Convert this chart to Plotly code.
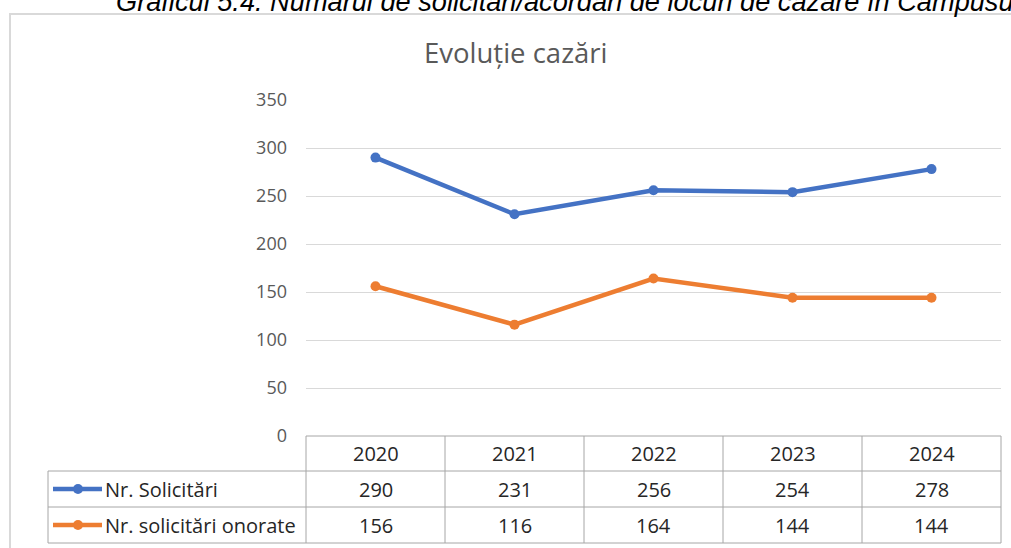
import plotly.graph_objects as go

years = ["2020", "2021", "2022", "2023", "2024"]
solicitari = [290, 231, 256, 254, 278]
onorate = [156, 116, 164, 144, 144]
series_names = ["Nr. Solicitări", "Nr. solicitări onorate"]
colors = ["#4472C4", "#ED7D31"]
title_text = "Evoluție cazări"
caption_text = "Graficul 5.4. Numărul de solicitări/acordări de locuri de cazare în Campusul Universitar"

W, H = 1011, 548
L, R, T, B = 306, 1001, 100, 436  # plot area in pixels

def px(x):
    return (x - L) / (R - L)

def py(y):
    return (B - y) / (B - T)

FONT = "Open Sans, Calibri, sans-serif"
fig = go.Figure()
for name, vals, c in zip(series_names, [solicitari, onorate], colors):
    fig.add_trace(go.Scatter(x=years, y=vals, mode="lines+markers", name=name,
                             line=dict(color=c, width=4.5),
                             marker=dict(color=c, size=10)))

shapes = []
annotations = []
shapes.append(dict(type="rect", xref="paper", yref="paper", x0=px(10), x1=px(1030),
                   y0=py(570), y1=py(14), line=dict(color="#d9d9d9", width=2), layer="below"))
gc = "#a6a6a6"
row_y = [436, 471, 507, 543]
col_x = [L + i * (R - L) / 5 for i in range(6)]
shapes.append(dict(type="line", xref="paper", yref="paper", x0=px(L), x1=px(R), y0=py(436), y1=py(436), line=dict(color=gc, width=1)))
for yy in row_y[1:]:
    shapes.append(dict(type="line", xref="paper", yref="paper", x0=px(48), x1=px(R), y0=py(yy), y1=py(yy), line=dict(color=gc, width=1)))
shapes.append(dict(type="line", xref="paper", yref="paper", x0=px(48), x1=px(48), y0=py(471), y1=py(543), line=dict(color=gc, width=1)))
for xx in col_x:
    shapes.append(dict(type="line", xref="paper", yref="paper", x0=px(xx), x1=px(xx), y0=py(436), y1=py(543), line=dict(color=gc, width=1)))

tf = dict(family=FONT, size=20, color="#262626")
for i, yr in enumerate(years):
    cx = (col_x[i] + col_x[i + 1]) / 2
    annotations.append(dict(x=px(cx), y=py(453), xref="paper", yref="paper", text=yr, showarrow=False, font=tf, xanchor="center", yanchor="middle"))
for r, (name, vals, c) in enumerate(zip(series_names, [solicitari, onorate], colors)):
    yc = (row_y[r + 1] + row_y[r + 2]) / 2
    shapes.append(dict(type="line", xref="paper", yref="paper", x0=px(53), x1=px(102), y0=py(yc), y1=py(yc), line=dict(color=c, width=4.5)))
    rr = 5
    shapes.append(dict(type="circle", xref="paper", yref="paper", x0=px(78 - rr), x1=px(78 + rr), y0=py(yc + rr), y1=py(yc - rr), fillcolor=c, line=dict(color=c, width=0)))
    annotations.append(dict(x=px(103), y=py(yc), xref="paper", yref="paper", text=name, showarrow=False, font=tf, xanchor="left", yanchor="middle"))
    for i, v in enumerate(vals):
        cx = (col_x[i] + col_x[i + 1]) / 2
        annotations.append(dict(x=px(cx), y=py(yc), xref="paper", yref="paper", text=str(v), showarrow=False, font=tf, xanchor="center", yanchor="middle"))

annotations.append(dict(x=px(516), y=py(52), xref="paper", yref="paper", text=title_text, showarrow=False,
                        font=dict(family=FONT, size=27.5, color="#595959"), xanchor="center", yanchor="middle"))
annotations.append(dict(x=px(114), y=py(2), xref="paper", yref="paper", text="<i>" + caption_text + "</i>", showarrow=False,
                        font=dict(family="Liberation Sans, Arial, sans-serif", size=27.2, color="#000000"), xanchor="left", yanchor="middle"))

fig.update_layout(
    width=W, height=H,
    margin=dict(l=L, r=W - R, t=T, b=H - B, pad=0),
    paper_bgcolor="white", plot_bgcolor="white",
    showlegend=False,
    shapes=shapes, annotations=annotations,
    xaxis=dict(showticklabels=False, showgrid=False, zeroline=False, showline=False, ticks="", range=[-0.5, 4.5]),
    yaxis=dict(range=[0, 350], dtick=50, tick0=0, showgrid=True, gridcolor="#d9d9d9", gridwidth=1,
               zeroline=False, showline=False, ticks="", ticklabelstandoff=18,
               tickfont=dict(family=FONT, size=18, color="#595959")),
)
fig.write_html("out.html", config={"displayModeBar": False}, post_script="document.body.style.margin='0px';")
